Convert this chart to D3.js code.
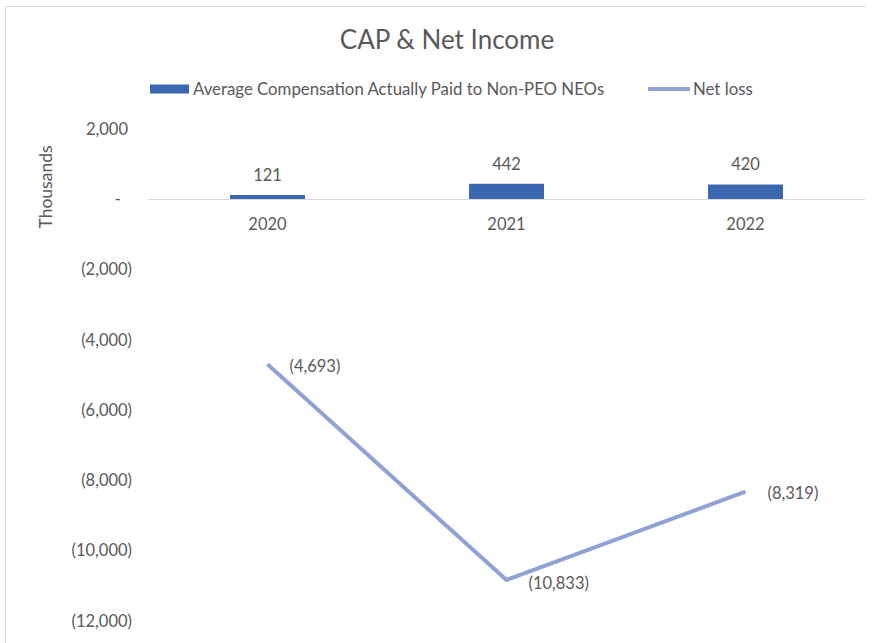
<!DOCTYPE html>
<html>
<head>
<meta charset="utf-8">
<script src="https://cdn.jsdelivr.net/npm/d3@7"></script>
<style>
  body { margin: 0; background: #fff; }
  text { font-family: Lato, "Open Sans", sans-serif; fill: #595959; }
</style>
</head>
<body>
<svg id="chart" width="874" height="643"></svg>
<script>
// data (thousands)
const years = ["2020", "2021", "2022"];
const capValues = [121, 442, 420];
const netLoss = [-4693, -10833, -8319];
const yTicks = [2000, 0, -2000, -4000, -6000, -8000, -10000, -12000];

const svg = d3.select("#chart");

// chart frame
svg.append("path")
    .attr("d", "M5.5,643 L5.5,6.5 L866,6.5")
    .attr("fill", "none")
    .attr("stroke", "#d9d9d9")
    .attr("stroke-width", 1);

const x = d3.scaleBand().domain(years).range([148, 865]);
const y = d3.scaleLinear().domain([-12000, 2000]).range([621, 129]);

const fmt = (v) => {
    if (v === 0) return "-";
    const s = d3.format(",")(Math.abs(Math.round(v)));
    return v < 0 ? "(" + s + ")" : s;
};

// title
svg.append("text")
    .attr("x", 447).attr("y", 49)
    .attr("text-anchor", "middle")
    .attr("font-size", 26)
    .text("CAP & Net Income");

// legend
svg.append("rect")
    .attr("x", 150).attr("y", 84.5)
    .attr("width", 39).attr("height", 9)
    .attr("fill", "#3b66b0");
svg.append("text")
    .attr("x", 193).attr("y", 94.5)
    .attr("font-size", 16.8)
    .text("Average Compensation Actually Paid to Non-PEO NEOs");
svg.append("line")
    .attr("x1", 648).attr("x2", 690)
    .attr("y1", 89).attr("y2", 89)
    .attr("stroke", "#8fa2d6")
    .attr("stroke-width", 4);
svg.append("text")
    .attr("x", 693).attr("y", 94.5)
    .attr("font-size", 16.8)
    .text("Net loss");

// y axis labels
svg.append("g")
    .selectAll("text")
    .data(yTicks)
    .enter()
    .append("text")
    .attr("x", (d) => d < 0 ? 132 : (d === 0 ? 121 : 128))
    .attr("y", (d) => y(d))
    .attr("dy", "0.35em")
    .attr("text-anchor", "end")
    .attr("font-size", 16.5)
    .text((d) => fmt(d));

svg.append("text")
    .attr("transform", "translate(52,187) rotate(-90)")
    .attr("text-anchor", "middle")
    .attr("font-size", 17.5)
    .text("Thousands");

// bars
const barW = 75;
svg.append("g")
    .selectAll("rect")
    .data(capValues)
    .enter()
    .append("rect")
    .attr("x", (d, i) => x(years[i]) + x.bandwidth() / 2 - barW / 2)
    .attr("y", (d) => y(d))
    .attr("width", barW)
    .attr("height", (d) => y(0) - y(d))
    .attr("fill", "#3b66b0");

// category axis at zero
svg.append("line")
    .attr("x1", 148).attr("x2", 865)
    .attr("y1", Math.round(y(0)) + 0.5).attr("y2", Math.round(y(0)) + 0.5)
    .attr("stroke", "#d9d9d9")
    .attr("stroke-width", 1);

svg.append("g")
    .selectAll("text")
    .data(years)
    .enter()
    .append("text")
    .attr("x", (d) => x(d) + x.bandwidth() / 2)
    .attr("y", y(0) + 25)
    .attr("dy", "0.35em")
    .attr("text-anchor", "middle")
    .attr("font-size", 16.5)
    .text((d) => d);

// bar labels
svg.append("g")
    .selectAll("text")
    .data(capValues)
    .enter()
    .append("text")
    .attr("x", (d, i) => x(years[i]) + x.bandwidth() / 2)
    .attr("y", (d) => y(d) - 20)
    .attr("dy", "0.35em")
    .attr("text-anchor", "middle")
    .attr("font-size", 16.5)
    .text((d) => fmt(d));

// net loss line
const line = d3.line()
    .x((d, i) => x(years[i]) + x.bandwidth() / 2)
    .y((d) => y(d));

svg.append("path")
    .datum(netLoss)
    .attr("d", line)
    .attr("fill", "none")
    .attr("stroke", "#8fa2d6")
    .attr("stroke-width", 4)
    .attr("stroke-linejoin", "miter");

svg.append("g")
    .selectAll("text")
    .data(netLoss)
    .enter()
    .append("text")
    .attr("x", (d, i) => x(years[i]) + x.bandwidth() / 2 + 22)
    .attr("y", (d, i) => y(d) + (i === 1 ? 3 : 2))
    .attr("dy", "0.35em")
    .attr("font-size", 16.5)
    .text((d) => fmt(d));
</script>
</body>
</html>
